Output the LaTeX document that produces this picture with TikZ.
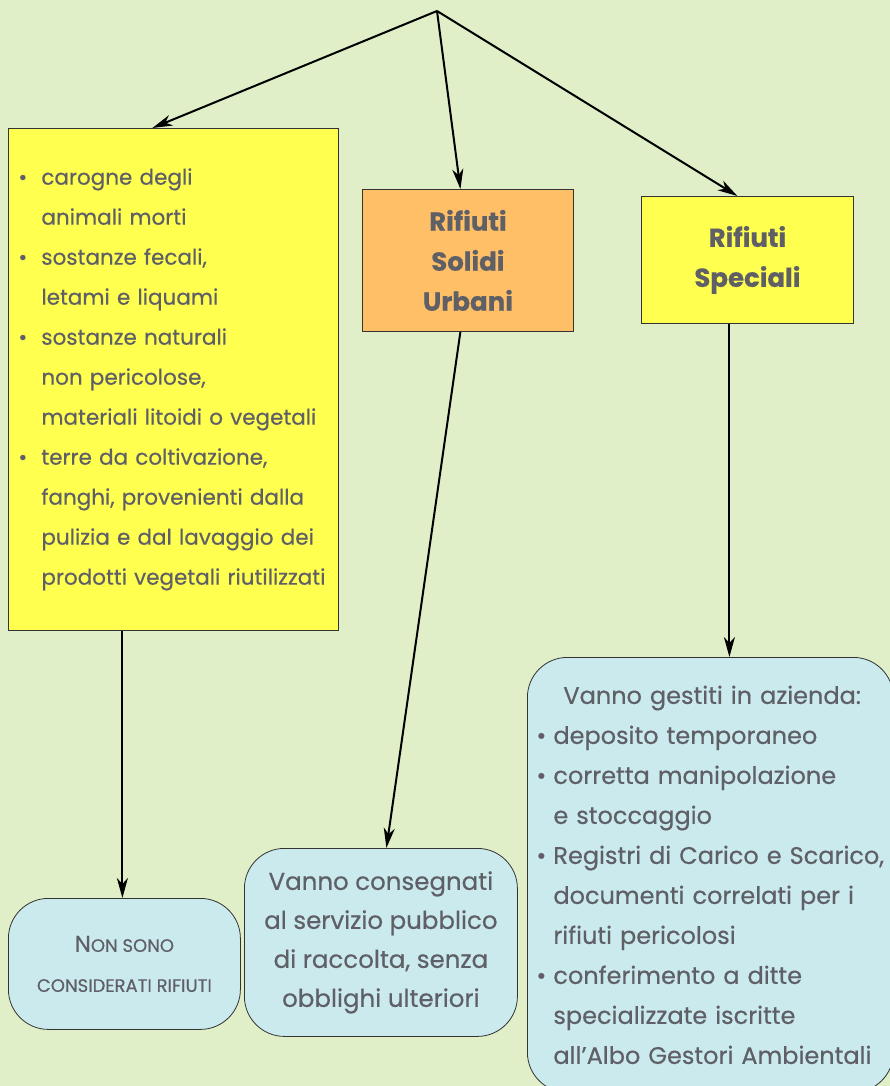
\documentclass[tikz,border=0pt]{standalone}
\usepackage{fontspec}
\setmainfont{Poppins}[FakeBold=0.4]
\usepackage{tikz}
\usetikzlibrary{arrows.meta}
\definecolor{sfondo}{RGB}{224,239,200}
\definecolor{giallo}{RGB}{255,255,80}
\definecolor{arancio}{RGB}{255,191,102}
\definecolor{azzurro}{RGB}{202,234,238}
\definecolor{testo}{RGB}{95,95,102}
\def\pallino#1{\makebox[#1][l]{\textbullet}}
\def\piccolo{\fontsize{18}{40}\selectfont}

\begin{document}
\begin{tikzpicture}[x=1pt, y=-1pt,
		freccia/.style={draw=black, line width=2pt, -{Stealth[length=20pt, width=11pt, inset=6pt]}},
		riquadro/.style={draw=black!80, line width=0.8pt, anchor=north west, inner sep=0pt, text=testo},
		tondo/.style={riquadro, fill=azzurro, rounded corners=40pt}]
		\fill[sfondo] (0,0) rectangle (890,1086);
		\useasboundingbox (0,0) rectangle (890,1086);
		\clip (0,0) rectangle (890,1086);

		\coordinate (vertice) at (437,11);

		\node[riquadro, fill=giallo, minimum width=330pt, minimum height=502pt, text width=330pt, align=left, font=\fontsize{21.5}{40}\selectfont] (elenco) at (8,128)
			{\hspace*{10pt}\pallino{23pt}carogne degli\\ \hspace*{33pt}animali morti\\
			 \hspace*{10pt}\pallino{23pt}sostanze fecali,\\ \hspace*{33pt}letami e liquami\\
			 \hspace*{10pt}\pallino{23pt}sostanze naturali\\ \hspace*{33pt}non pericolose,\\ \hspace*{33pt}materiali litoidi o vegetali\\
			 \hspace*{10pt}\pallino{23pt}terre da coltivazione,\\ \hspace*{33pt}fanghi, provenienti dalla\\ \hspace*{33pt}pulizia e dal lavaggio dei\\ \hspace*{33pt}prodotti vegetali riutilizzati};
		\node[riquadro, fill=arancio, minimum width=211pt, minimum height=142pt, align=center, font=\fontsize{26}{40}\selectfont\bfseries] (rsu) at (362,189) {Rifiuti\\Solidi\\Urbani};
		\node[riquadro, fill=giallo, minimum width=212pt, minimum height=127pt, align=center, font=\fontsize{26}{40}\selectfont\bfseries] (speciali) at (641,196) {Rifiuti\\Speciali};

		\node[tondo, minimum width=232pt, minimum height=131pt, align=center, font=\fontsize{23}{40}\selectfont] (nonsono) at (8,898)
			{N{\piccolo ON SONO}\\ {\piccolo CONSIDERATI RIFIUTI}};
		\node[tondo, minimum width=273pt, minimum height=188pt, align=center, font=\fontsize{24.5}{39}\selectfont] (consegna) at (244,848)
			{Vanno consegnati\\al servizio pubblico\\di raccolta, senza\\obblighi ulteriori};
		\node[tondo, minimum width=366pt, minimum height=435pt, text width=366pt, align=left, font=\fontsize{24}{40}\selectfont] (gestiti) at (527,657)
			{\hspace*{36pt}Vanno gestiti in azienda:\\
			 \hspace*{9pt}\pallino{17pt}deposito temporaneo\\
			 \hspace*{9pt}\pallino{17pt}corretta manipolazione\\ \hspace*{26pt}e stoccaggio\\
			 \hspace*{9pt}\pallino{17pt}Registri di Carico e Scarico,\\ \hspace*{26pt}documenti correlati per i\\ \hspace*{26pt}rifiuti pericolosi\\
			 \hspace*{9pt}\pallino{17pt}conferimento a ditte\\ \hspace*{26pt}specializzate iscritte\\ \hspace*{26pt}all’Albo Gestori Ambientali};

		\draw[freccia] (vertice) -- ([xshift=-21pt]elenco.north);
		\draw[freccia] (vertice) -- ([xshift=-7.5pt]rsu.north);
		\draw[freccia] (vertice) -- ([xshift=-10pt]speciali.north);
		\draw[freccia] ([xshift=-51pt]elenco.south) -- ([xshift=-2pt]nonsono.north);
		\draw[freccia] ([xshift=-7.5pt]rsu.south) -- ([xshift=5.5pt]consegna.north);
		\draw[freccia] ([xshift=-18pt]speciali.south) -- ([xshift=19pt]gestiti.north);
	\end{tikzpicture}
\end{document}
